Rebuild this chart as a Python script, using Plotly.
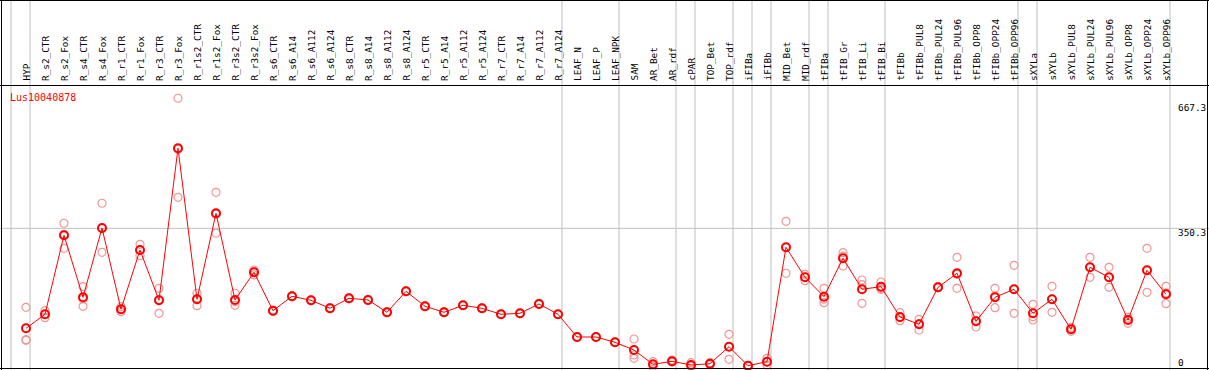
import plotly.graph_objects as go

categories = ["HYP", "R_s2_CTR", "R_s2_Fox", "R_s4_CTR", "R_s4_Fox", "R_r1_CTR", "R_r1_Fox",
              "R_r3_CTR", "R_r3_Fox", "R_r1s2_CTR", "R_r1s2_Fox", "R_r3s2_CTR", "R_r3s2_Fox",
              "R_s6_CTR", "R_s6_A14", "R_s6_A112", "R_s6_A124", "R_s8_CTR", "R_s8_A14",
              "R_s8_A112", "R_s8_A124", "R_r5_CTR", "R_r5_A14", "R_r5_A112", "R_r5_A124",
              "R_r7_CTR", "R_r7_A14", "R_r7_A112", "R_r7_A124", "LEAF_N", "LEAF_P", "LEAF_NPK",
              "SAM", "AR_Bet", "AR_rdf", "cPAR", "TOP_Bet", "TOP_rdf", "iFIBa", "iFIBb",
              "MID_Bet", "MID_rdf", "tFIBa", "tFIB_Gr", "tFIB_Li", "tFIB_Bi", "tFIBb",
              "tFIBb_PUL8", "tFIBb_PUL24", "tFIBb_PUL96", "tFIBb_OPP8", "tFIBb_OPP24",
              "tFIBb_OPP96", "sXYLa", "sXYLb", "sXYLb_PUL8", "sXYLb_PUL24", "sXYLb_PUL96",
              "sXYLb_OPP8", "sXYLb_OPP24", "sXYLb_OPP96"]

mean_values = [97.4, 132.8, 332.7, 175.8, 351.2, 145.5, 295.5, 168.2, 552.8, 170.8, 388.4,
               169.0, 239.1, 141.9, 178.4, 168.2, 148.0, 173.3, 169.0, 137.9, 191.0, 153.1,
               137.9, 155.6, 148.0, 132.8, 135.4, 158.9, 132.8, 75.4, 75.4, 62.0, 42.5, 6.3,
               13.9, 4.6, 7.8, 50.9, 2.8, 12.9, 302.3, 226.4, 177.4, 274.5, 196.1, 202.7,
               126.0, 107.5, 201.1, 236.6, 115.1, 175.8, 196.1, 135.4, 170.8, 94.9, 251.7,
               226.4, 118.4, 244.1, 183.4]

rep1 = [150.5, 141.9, 363.1, 202.7, 413.7, 152.1, 309.9, 198.6, 679.3, 186.0, 441.5,
        186.0, 244.9, 140.0, 177.0, 167.0, 147.0, 172.0, 168.0, 137.0, 190.0, 152.0,
        137.0, 155.0, 147.0, 132.0, 134.0, 158.0, 132.0, 75.0, 75.0, 62.0, 70.3, 12.9,
        17.0, 10.4, 10.4, 82.2, 2.0, 21.5, 368.1, 234.0, 198.6, 288.7, 219.6, 214.5,
        136.9, 120.2, 200.0, 277.0, 128.5, 198.6, 256.8, 158.1, 203.7, 100.0, 277.0,
        251.7, 125.2, 299.8, 203.7]

rep2 = [68.6, 124.2, 299.8, 153.1, 289.7, 139.4, 281.1, 135.4, 428.8, 154.6, 337.8,
        155.6, 232.3, 143.0, 179.0, 169.0, 149.0, 174.0, 170.0, 139.0, 192.0, 154.0,
        139.0, 156.0, 149.0, 133.0, 136.0, 160.0, 133.0, 76.0, 76.0, 62.0, 29.9, 0.3,
        12.0, 2.0, 5.0, 19.0, 3.0, 4.6, 236.6, 217.8, 162.2, 255.0, 160.7, 198.0,
        116.6, 93.1, 203.0, 198.6, 100.7, 149.5, 135.4, 126.8, 137.9, 89.8, 226.4,
        201.1, 110.0, 188.5, 159.6]

rep3 = [67.0, 132.3, 335.2, 171.6, 350.0, 145.0, 295.0, 170.0, 550.3, 172.0, 386.0,
        165.0, 240.0, 142.0, 179.0, 168.5, 148.0, 173.5, 169.0, 138.0, 191.0, 153.0,
        138.0, 156.0, 148.0, 133.0, 135.0, 159.0, 133.0, 75.0, 75.0, 62.0, 21.5, 5.0,
        13.0, 1.4, 8.0, 51.0, 3.4, 12.6, 302.0, 227.0, 171.0, 280.0, 208.0, 196.0,
        124.5, 109.0, 200.0, 234.0, 116.0, 179.0, 196.0, 118.4, 171.0, 95.0, 252.0,
        226.0, 120.0, 244.0, 187.0]

# group boundaries: separator drawn right after these column indices (-1 = before first)
group_ends = [-1, 0, 28, 31, 34, 35, 37, 38, 39, 41, 42, 45, 52, 53, 60]

title_text = "Lus10040878"
ytick_values = [667.3, 350.3, 0]
ytick_labels = ["667.3", "350.3", "0"]

W, H = 1209, 370
x_idx = list(range(len(categories)))

fig = go.Figure()

rep_color = "rgb(240,150,150)"
for reps in (rep1, rep2, rep3):
    fig.add_trace(go.Scatter(
        x=x_idx, y=reps, mode="markers",
        marker=dict(symbol="circle-open", size=8, color=rep_color, line=dict(width=1.2, color=rep_color)),
        showlegend=False, hoverinfo="skip"))

fig.add_trace(go.Scatter(
    x=x_idx, y=mean_values, mode="lines+markers",
    line=dict(color="red", width=1),
    marker=dict(symbol="circle-open", size=8, color="red", line=dict(width=2, color="red")),
    showlegend=False))

# pixel mapping: x_px = 26 + 19*i ; y_px = 366.8 - 0.3953*v
x0_data = -26 / 19
x1_data = (W - 26) / 19
y_scale = 0.3953
y_zero_px = 366.8
y_top = y_zero_px / y_scale
y_bot = -(H - y_zero_px) / y_scale

fig.update_xaxes(range=[x0_data, x1_data], visible=False, fixedrange=True)
fig.update_yaxes(range=[y_bot, y_top], visible=False, fixedrange=True)

shapes = []
gray = "rgb(192,192,192)"
for k in group_ends:
    xs = k + 4 / 19
    shapes.append(dict(type="line", xref="x", yref="paper", x0=xs, x1=xs, y0=0, y1=1,
                       line=dict(color=gray, width=1), layer="below"))
shapes.append(dict(type="line", xref="paper", yref="y", x0=0, x1=1, y0=350.3, y1=350.3,
                   line=dict(color=gray, width=1), layer="below"))


def py(px):
    return 1 - px / H


def pxx(px):
    return px / W


black = dict(color="black", width=1)
shapes.append(dict(type="line", xref="paper", yref="paper", x0=pxx(1.5), x1=pxx(1.5), y0=0, y1=1, line=black))
shapes.append(dict(type="line", xref="paper", yref="paper", x0=pxx(1207.5), x1=pxx(1207.5), y0=0, y1=1, line=black))
shapes.append(dict(type="line", xref="paper", yref="paper", x0=0, x1=1, y0=py(0.5), y1=py(0.5), line=black))
shapes.append(dict(type="line", xref="paper", yref="paper", x0=0, x1=1, y0=py(368.5), y1=py(368.5), line=black))
shapes.append(dict(type="line", xref="paper", yref="paper", x0=0, x1=1, y0=py(85.5), y1=py(85.5), line=black))

annotations = []
mono = "DejaVu Sans Mono"
for i, name in enumerate(categories):
    annotations.append(dict(x=i, xref="x", y=py(83), yref="paper", text=name, textangle=-90,
                            showarrow=False, xanchor="center", yanchor="bottom",
                            font=dict(family=mono, size=9.4, color="black")))

annotations.append(dict(x=pxx(8), xref="paper", y=py(97), yref="paper", text=title_text,
                        showarrow=False, xanchor="left", yanchor="middle",
                        font=dict(family=mono, size=10, color="red")))

ytick_px = [107.5, 232.5, 362]
for v, lab, ypx in zip(ytick_values, ytick_labels, ytick_px):
    annotations.append(dict(x=pxx(1176), xref="paper", y=py(ypx), yref="paper", text=lab,
                            showarrow=False, xanchor="left", yanchor="middle",
                            font=dict(family=mono, size=9.4, color="black")))

fig.update_layout(width=W, height=H, margin=dict(l=0, r=0, t=0, b=0),
                  plot_bgcolor="white", paper_bgcolor="white",
                  shapes=shapes, annotations=annotations, showlegend=False)

fig.write_html("out.html", config={"displayModeBar": False},
               post_script="document.body.style.margin='0px';document.body.style.overflow='hidden';")
